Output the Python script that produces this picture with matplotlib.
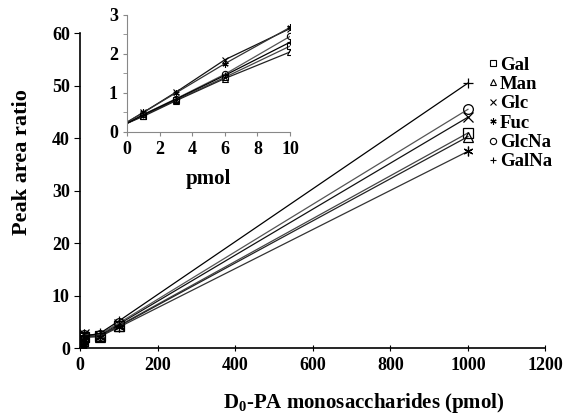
import matplotlib
matplotlib.use("Agg")
import matplotlib.pyplot as plt

names = ["Gal", "Man", "Glc", "Fuc", "GlcNa", "GalNa"]
x_main = [0, 1, 3, 6, 10, 50, 100, 1000]
y_main = {
    "Gal":   [0.22, 0.42, 0.82, 1.40, 2.20, 2.3, 4.3, 41.0],
    "Man":   [0.22, 0.40, 0.80, 1.37, 2.05, 2.2, 4.2, 40.3],
    "Glc":   [0.25, 0.50, 1.02, 1.85, 2.65, 2.4, 4.6, 44.0],
    "Fuc":   [0.25, 0.50, 1.00, 1.75, 2.68, 2.2, 4.0, 37.5],
    "GlcNa": [0.22, 0.45, 0.85, 1.48, 2.45, 2.6, 4.8, 45.5],
    "GalNa": [0.22, 0.44, 0.84, 1.45, 2.30, 2.8, 5.2, 50.5],
}
markers = {"Gal": "s", "Man": "^", "Glc": "x", "Fuc": (6, 2, 0), "GlcNa": "o", "GalNa": "+"}
line_colors = {"Gal": "#444444", "Man": "#222222", "Glc": "#111111", "Fuc": "#333333",
               "GlcNa": "#555555", "GalNa": "#000000"}
main_xticks = [0, 200, 400, 600, 800, 1000, 1200]
main_yticks = [0, 10, 20, 30, 40, 50, 60]
inset_xticks = [0, 2, 4, 6, 8, 10]
inset_yticks = [0, 1, 2, 3]

plt.rcParams['font.family'] = ['Liberation Serif', 'DejaVu Serif']
plt.rcParams['font.weight'] = 'bold'
plt.rcParams['mathtext.fontset'] = 'custom'
plt.rcParams['mathtext.rm'] = 'Liberation Serif:bold'
plt.rcParams['mathtext.bf'] = 'Liberation Serif:bold'
plt.rcParams['mathtext.it'] = 'Liberation Serif:bold'

fig = plt.figure(figsize=(5.73, 4.15), dpi=100)
ax = fig.add_axes([0.14, 0.161, 0.812, 0.759])

for n in names:
    ax.plot(x_main, y_main[n], color=line_colors[n], lw=0.9,
            marker=markers[n], markevery=list(range(1, len(x_main))),
            mfc='none', mec='black', ms=7, mew=0.9, zorder=3)

ax.set_xlim(0, 1200)
ax.set_ylim(0, 60)
ax.set_xticks(main_xticks)
ax.set_yticks(main_yticks)
for s in ['top', 'right']:
    ax.spines[s].set_visible(False)
ax.spines['left'].set_linewidth(1.2)
ax.spines['bottom'].set_linewidth(1.2)
ax.tick_params(axis='x', direction='inout', length=5, labelsize=13, pad=4)
ax.tick_params(axis='y', direction='out', length=4, labelsize=13)
for lab in ax.get_xticklabels() + ax.get_yticklabels():
    lab.set_fontweight('bold')
ax.set_xlabel(r"D$_\mathrm{0}$-PA monosaccharides (pmol)", fontsize=15, fontweight='bold')
ax.xaxis.set_label_coords(0.61, -0.135)
ax.set_ylabel("Peak area ratio", fontsize=16, fontweight='bold')
ax.yaxis.set_label_coords(-0.103, 0.59)

leg_handles = [plt.Line2D([], [], ls='none', marker=markers[n], mfc='none', mec='black',
                          ms=4.5, mew=0.8) for n in names]
leg = ax.legend(leg_handles, names, loc='upper left', bbox_to_anchor=(0.86, 0.95),
                frameon=False, fontsize=13.5, handlelength=0.5, handletextpad=0.15,
                labelspacing=0.12, borderaxespad=0)
for t in leg.get_texts():
    t.set_fontweight('bold')

# inset
axi = fig.add_axes([0.2216, 0.682, 0.2845, 0.282])
for n in names:
    axi.plot(x_main[:5], y_main[n][:5], color=line_colors[n], lw=0.9,
             marker=markers[n], markevery=[1, 2, 3, 4], mfc='none', mec='black',
             ms=4.5, mew=0.8)
axi.set_xlim(0, 10)
axi.set_ylim(0, 3)
axi.set_xticks(inset_xticks)
axi.set_yticks(inset_yticks)
axi.set_yticks([0.5, 1.5, 2.5], minor=True)
for s in ['top', 'right']:
    axi.spines[s].set_visible(False)
axi.spines['left'].set_color('#888888')
axi.spines['bottom'].set_color('#888888')
axi.tick_params(axis='both', which='both', direction='out', length=3, color='#888888',
                labelsize=13)
for lab in axi.get_xticklabels() + axi.get_yticklabels():
    lab.set_fontweight('bold')
axi.set_xlabel("pmol", fontsize=15, fontweight='bold', labelpad=8)
axi.patch.set_alpha(0)

fig.savefig("out.png", dpi=100)
